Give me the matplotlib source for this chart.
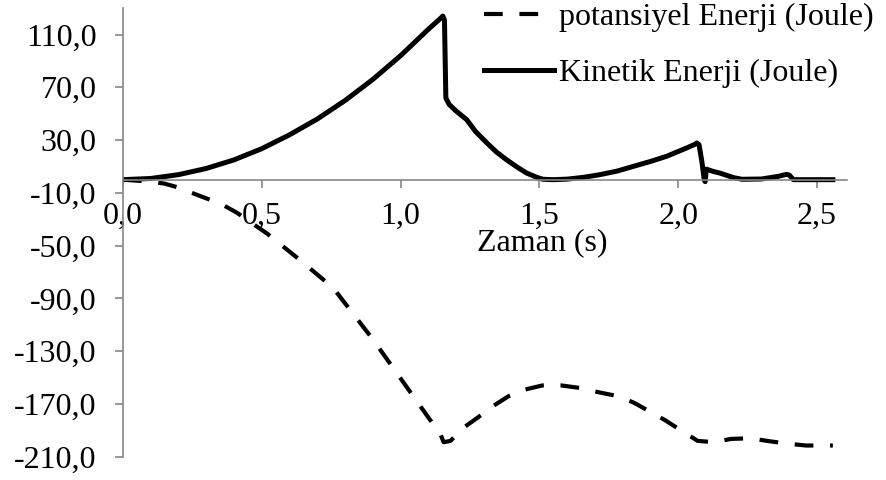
import matplotlib.pyplot as plt
from matplotlib.ticker import FuncFormatter

plt.rcParams['font.family'] = ['Liberation Serif', 'DejaVu Serif']

# Kinetik enerji (J) - zamana göre
t_kinetik = [0.00, 0.10, 0.20, 0.30, 0.40, 0.50, 0.60, 0.70, 0.80, 0.90, 1.00,
             1.10, 1.145, 1.152, 1.158, 1.163, 1.175, 1.20, 1.238, 1.27, 1.31,
             1.345, 1.382, 1.42, 1.454, 1.49, 1.513, 1.55, 1.60, 1.66, 1.718,
             1.78, 1.837, 1.90, 1.958, 2.03, 2.06, 2.067, 2.075, 2.085, 2.093,
             2.097, 2.101, 2.125, 2.15, 2.20, 2.23, 2.30, 2.36, 2.39, 2.40,
             2.415, 2.557]
kinetik = [0.0, 0.9, 3.8, 8.5, 15.0, 23.5, 34.0, 46.0, 60.0, 76.0, 94.0,
           114.0, 122.5, 124.0, 121.0, 62.0, 57.0, 52.0, 45.5, 36.5, 28.0,
           21.0, 15.0, 9.5, 5.0, 1.8, 0.3, 0.0, 0.4, 1.8, 3.8,
           6.5, 10.0, 13.8, 17.7, 24.0, 26.8, 27.8, 26.5, 14.0, 1.0,
           -1.5, 8.0, 6.3, 5.0, 1.5, 0.3, 0.5, 2.5, 4.0, 3.5,
           0.0, 0.0]

# Potansiyel enerji (J) - zamana göre
t_potansiyel = [0.00, 0.10, 0.15, 0.20, 0.285, 0.35, 0.41, 0.52, 0.638, 0.757,
                0.90, 1.045, 1.106, 1.142, 1.155, 1.18, 1.22, 1.28, 1.33, 1.39,
                1.45, 1.51, 1.58, 1.65, 1.71, 1.78, 1.84, 1.90, 1.95, 2.01,
                2.07, 2.13, 2.19, 2.26, 2.32, 2.39, 2.46, 2.52, 2.557]
potansiyel = [0.0, -1.5, -3.0, -6.0, -13.0, -18.0, -25.0, -41.0, -61.0, -82.0,
              -121.0, -164.0, -182.0, -192.0, -199.0, -198.0, -189.0, -180.0, -172.0, -164.0,
              -159.0, -156.0, -156.0, -158.0, -161.0, -164.0, -169.0, -176.0, -182.0, -190.0,
              -198.0, -199.0, -196.5, -196.0, -198.0, -200.0, -201.5, -201.5, -201.5]

x_ticks = [0.0, 0.5, 1.0, 1.5, 2.0, 2.5]
y_ticks = [-210, -170, -130, -90, -50, -10, 30, 70, 110]

fig = plt.figure(figsize=(8.86, 4.8), dpi=100)
ax = fig.add_axes([0.1388, 0.0485, 0.8172, 0.9345])

ax.plot(t_potansiyel, potansiyel, color='black', lw=3.0, dashes=(4.5, 4.0),
        label='potansiyel Enerji (Joule)')
ax.plot(t_kinetik, kinetik, color='black', lw=3.6, solid_joinstyle='round',
        label='Kinetik Enerji (Joule)')

ax.set_xlim(0, 2.608)
ax.set_ylim(-210, 130)

ax.spines['top'].set_visible(False)
ax.spines['right'].set_visible(False)
ax.spines['bottom'].set_position(('data', 0))
for s in ('left', 'bottom'):
    ax.spines[s].set_color('#868686')
    ax.spines[s].set_linewidth(1.2)

virgul = FuncFormatter(lambda v, p: f'{v:.1f}'.replace('.', ','))
ax.set_xticks(x_ticks)
ax.set_yticks(y_ticks)
ax.xaxis.set_major_formatter(virgul)
ax.yaxis.set_major_formatter(virgul)
ax.tick_params(axis='both', colors='#868686', length=6, width=1.2, labelsize=23,
               labelcolor='black')
ax.tick_params(axis='x', pad=10)
ax.tick_params(axis='y', pad=13)

ax.text(1.51, -48, 'Zaman (s)', fontsize=23, ha='center', va='center')

fig.legend(loc='upper left', bbox_to_anchor=(0.546, 0.995), frameon=False,
           fontsize=23, handlelength=2.2, handletextpad=0.15, labelspacing=0.85,
           borderpad=0, borderaxespad=0)

fig.savefig('out.png', dpi=100)
